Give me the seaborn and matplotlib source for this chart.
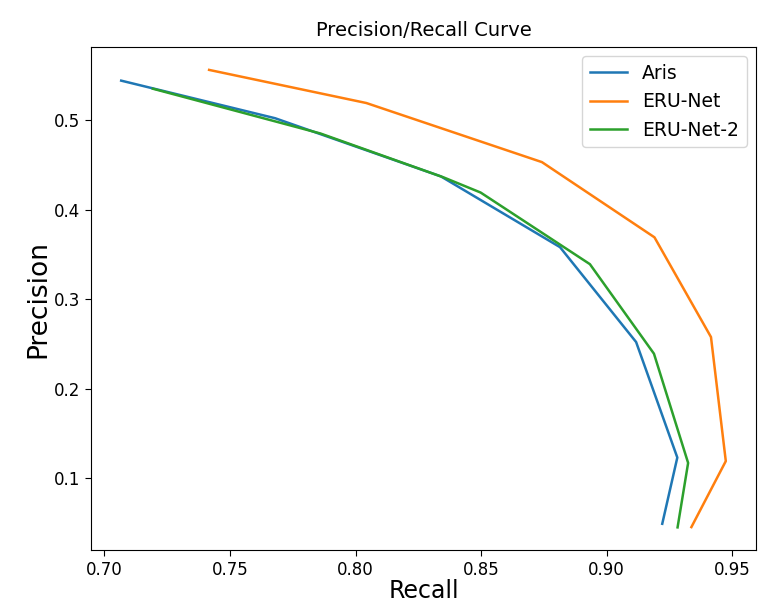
import matplotlib
matplotlib.use("Agg")
import matplotlib.pyplot as plt
import seaborn as sns
import pandas as pd

series_names = ["Aris", "ERU-Net", "ERU-Net-2"]

aris_recall = [0.7067, 0.768, 0.834, 0.8814, 0.9117, 0.9281, 0.9221]
aris_precision = [0.544, 0.502, 0.437, 0.358, 0.252, 0.123, 0.049]

erunet_recall = [0.7417, 0.8043, 0.8742, 0.919, 0.9415, 0.9474, 0.9337]
erunet_precision = [0.556, 0.519, 0.453, 0.369, 0.2576, 0.119, 0.0453]

erunet2_recall = [0.7193, 0.786, 0.835, 0.8498, 0.8933, 0.9188, 0.9324, 0.9282]
erunet2_precision = [0.535, 0.485, 0.436, 0.419, 0.339, 0.239, 0.117, 0.045]

frames = []
for name, r, p in zip(series_names,
                      [aris_recall, erunet_recall, erunet2_recall],
                      [aris_precision, erunet_precision, erunet2_precision]):
    frames.append(pd.DataFrame({"Recall": r, "Precision": p, "Model": name}))
df = pd.concat(frames, ignore_index=True)

fig, ax = plt.subplots(figsize=(7.58, 6.06), dpi=100)
fig.subplots_adjust(left=0.12, right=0.9974, top=0.9224, bottom=0.092)

sns.lineplot(data=df, x="Recall", y="Precision", hue="Model", sort=False,
             estimator=None, units="Model",
             palette=["#1f77b4", "#ff7f0e", "#2ca02c"], linewidth=1.8, ax=ax)

ax.set_title("Precision/Recall Curve", fontsize=14, pad=8)
ax.set_xlabel("Recall", fontsize=17, labelpad=0)
ax.set_ylabel("Precision", fontsize=19, labelpad=2)
ax.tick_params(labelsize=12, length=4.5, pad=3)
ax.set_xticks([0.70, 0.75, 0.80, 0.85, 0.90, 0.95])
ax.set_xticklabels(["0.70", "0.75", "0.80", "0.85", "0.90", "0.95"])
ax.set_yticks([0.1, 0.2, 0.3, 0.4, 0.5])
leg = ax.legend(loc="upper right", fontsize=13.5, title=None)
for line in leg.get_lines():
    line.set_linewidth(1.8)

fig.savefig("out.png", dpi=100)
